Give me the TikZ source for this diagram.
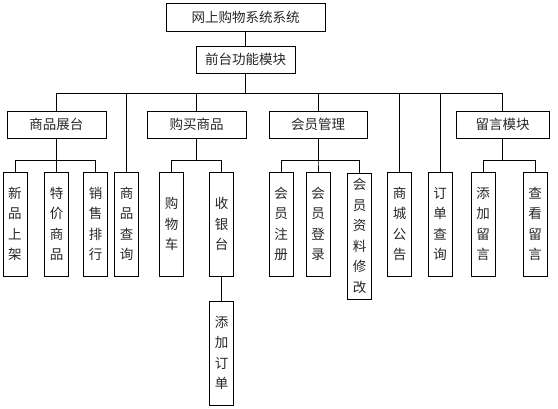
\documentclass[tikz,border=0pt]{standalone}
\usepackage{fontspec}
\newfontfamily\cjk{Noto Sans CJK SC}
\begin{document}
\begin{tikzpicture}[x=1pt,y=-1pt,
  every node/.style={font=\cjk\fontsize{13.5}{20.5}\selectfont, inner sep=0pt, text=black!85},
  hbox/.style={draw=black, line width=0.9pt, minimum height=27pt},
  vbox/.style={draw=black, line width=0.9pt, minimum width=24pt, minimum height=104pt, align=center},
  link/.style={line width=0.9pt}]
\useasboundingbox (0,0) rectangle (558,409);
% top levels
\node[hbox, minimum width=159pt, minimum height=28pt] (root) at (245.5,17) {网上购物系统系统};
\node[hbox, minimum width=99pt] (front) at (245.5,59.5) {前台功能模块};
% level 1
\node[hbox, minimum width=99pt] (A) at (56.5,124.5) {商品展台};
\node[hbox, minimum width=99pt] (B) at (196.5,124.5) {购买商品};
\node[hbox, minimum width=98pt] (C) at (318,124.5) {会员管理};
\node[hbox, minimum width=93pt] (D) at (502.5,124.5) {留言模块};
% leaves
\node[vbox] (a1) at (15,224) {新\\品\\上\\架};
\node[vbox] (a2) at (56.5,224) {特\\价\\商\\品};
\node[vbox] (a3) at (95.5,224) {销\\售\\排\\行};
\node[vbox] (q) at (126.5,224) {商\\品\\查\\询};
\node[vbox] (b1) at (171.5,224) {购\\物\\车};
\node[vbox] (b2) at (221.5,224) {收\\银\\台};
\node[vbox] (b3) at (221.5,353) {添\\加\\订\\单};
\node[vbox] (c1) at (281,224) {会\\员\\注\\册};
\node[vbox] (c2) at (318,224) {会\\员\\登\\录};
\node[vbox, minimum height=126pt] (c3) at (359.5,236) {会\\员\\资\\料\\修\\改};
\node[vbox] (m) at (399.5,224) {商\\城\\公\\告};
\node[vbox] (o) at (440,224) {订\\单\\查\\询};
\node[vbox] (d1) at (483,224) {添\\加\\留\\言};
\node[vbox] (d2) at (535,224) {查\\看\\留\\言};
% bus coordinates
\coordinate (bus1) at (0,93);
\coordinate (bus2) at (0,160);
% connectors
\draw[link] (root.south) -- (front.north);
\draw[link] (front.south) -- (front.south |- bus1);
\foreach \n in {A,B,C,D,q,m,o}
  \draw[link] (front.south |- bus1) -| (\n.north);
\foreach \p/\n in {A/a1,A/a2,A/a3,B/b1,B/b2,C/c1,C/c2,C/c3,D/d1,D/d2}
  \draw[link] (\p.south) -- (\p.south |- bus2) -| (\n.north);
\draw[link] (b2.south) -- (b3.north);
\end{tikzpicture}
\end{document}
